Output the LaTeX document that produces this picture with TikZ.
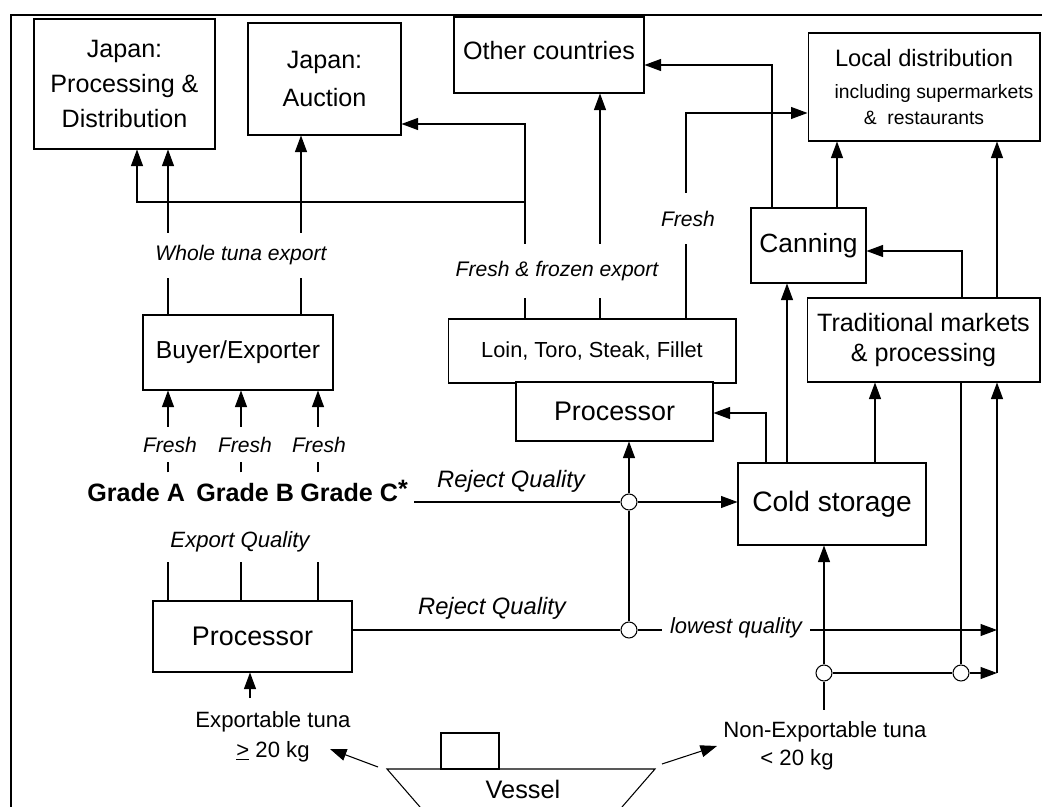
\documentclass[tikz,border=0pt]{standalone}
\usepackage{fontspec}
\setmainfont{Liberation Sans}
\usetikzlibrary{arrows.meta}
\newcommand{\fsz}[2]{\fontsize{#1}{#2}\selectfont}
\tikzset{
  flow/.style={-{Triangle[length=3.3mm,width=2.4mm]},line width=0.6pt},
  link/.style={line width=0.6pt},
  box/.style={draw,line width=0.6pt,fill=white,align=center,inner sep=0pt,
    font=\fsz{14.3}{17}},
  lbl/.style={font=\itshape\fsz{12}{14},fill=white,inner xsep=1pt,inner ysep=0pt},
  note/.style={font=\itshape\fsz{13.5}{16},inner sep=0pt,anchor=base},
  grade/.style={font=\bfseries\fsz{14.3}{17},inner xsep=0pt,inner ysep=0.22cm,
    anchor=base west},
  tuna/.style={font=\fsz{12.6}{17},align=center},
  junc/.style={circle,draw,line width=0.6pt,fill=white,minimum size=0.32cm,
    inner sep=0pt}
}
\begin{document}
\begin{tikzpicture}[x=0.02cm,y=-0.02cm]
  \useasboundingbox (0,0) rectangle (1042,807);
  \draw[line width=1.1pt] (11,807) -- (11,15) -- (1042,15);
  % boxes
  \node[box,minimum width=3.62cm,minimum height=2.6cm,font=\fsz{14.3}{19.7}] (jpd) at (124.5,84) {Japan:\\Processing \&\\Distribution};
  \node[box,minimum width=3.06cm,minimum height=2.24cm,font=\fsz{14.3}{22}] (auc) at (324.5,79) {Japan:\\Auction};
  \node[box,minimum width=3.8cm,minimum height=1.52cm,text depth=0.2cm] (oth) at (549,55) {Other countries};
  \node[box,minimum width=4.64cm,minimum height=2.16cm,font=\fsz{11}{14.8}] (loc) at (924,87) {{\fsz{13.5}{16}Local distribution}\\[3.8pt]\hspace{0.4cm}including supermarkets\\\& \ restaurants};
  \node[box,minimum width=2.3cm,minimum height=1.5cm,font=\fsz{15}{18}] (can) at (808.5,245.5) {Canning};
  \node[box,minimum width=4.66cm,minimum height=1.68cm] (trad) at (923.5,340) {Traditional markets\\\& processing};
  \node[box,minimum width=3.8cm,minimum height=1.5cm,font=\fsz{14}{17}] (buy) at (238,352.5) {Buyer/Exporter};
  \node[box,minimum width=5.76cm,minimum height=1.28cm,font=\fsz{12.4}{15}] (loin) at (592,351) {Loin, Toro, Steak, Fillet};
  \node[box,minimum width=3.94cm,minimum height=1.18cm,font=\fsz{15.3}{18}] (procu) at (614.5,411.5) {Processor};
  \node[box,minimum width=3.76cm,minimum height=1.64cm,font=\fsz{16}{19}] (cold) at (832,504) {Cold storage};
  \node[box,minimum width=3.98cm,minimum height=1.42cm,font=\fsz{15.3}{18}] (procl) at (252.5,636.5) {Processor};
  % grades and tuna
  \node[grade] (gA) at (87,502) {Grade A};
  \node[grade] (gB) at (196,502) {Grade B};
  \node[grade,inner xsep=0.12cm] (gC) at (294,502) {Grade C\raisebox{0.35ex}[0pt][0pt]{*}};
  \node[note,font=\itshape\fsz{12.6}{15},inner ysep=0.19cm] (eq) at (240,548) {Export Quality};
  \node[tuna,anchor=north,inner ysep=0.256cm] (ex) at (273,698) {Exportable tuna\\\underline{>} 20 kg};
  \node[tuna,anchor=base,inner ysep=0.22cm] (ne1) at (825,737) {Non-Exportable tuna};
  \node[tuna,anchor=base] (ne2) at (797,765) {< 20 kg};
  \node[junc] (j1) at (629,502) {};
  \node[junc] (j2) at (629,630) {};
  \node[junc] (j3) at (824,673) {};
  \node[junc] (j4) at (961,673) {};
  \coordinate (spine) at (997,673);
  \coordinate (brk) at (525,202);
  % vessel
  \draw[link] (420,807) -- (387,769) -- (655,769) -- (622,807);
  \draw[link] (441,733) rectangle (499,769);
  \node[anchor=base,font=\fsz{14.4}{17},inner sep=0pt] (ves) at (523,798) {Vessel};
  \coordinate (vL) at (378,767);
  \coordinate (vR) at (662,764);
  \coordinate (exin) at (330,749);
  \coordinate (nein) at (717,746);
  \draw[flow] (vL) -- (exin);
  \draw[flow] (vR) -- (nein);
  % connectors
  \draw[flow] (ex.north -| 250,0) -- (procl.south -| 250,0);
  \foreach \gx in {168,241,318}
    \draw[link] (procl.north -| \gx,0) -- (eq.south -| \gx,0);
  \draw[flow] (gA.north -| 168,0) -- (buy.south -| 168,0);
  \draw[flow] (gB.north -| 241,0) -- (buy.south -| 241,0);
  \draw[flow] (gC.north -| 318,0) -- (buy.south -| 318,0);
  \draw[flow] (buy.north -| 168,0) -- (jpd.south -| 168,0);
  \draw[flow] (buy.north -| 301,0) -- (auc.south -| 301,0);
  \draw[flow] (loin.north -| 525,0) |- (auc.east |- 0,124);
  \draw[flow] (brk) -| (jpd.south -| 137,0);
  \draw[flow] (loin.north -| 600,0) -- (oth.south -| 600,0);
  \draw[flow] (loin.north -| 686,0) |- (loc.west |- 0,113);
  \draw[flow] (can.north -| 772,0) |- (oth.east |- 0,65);
  \draw[flow] (can.north -| 837,0) -- (loc.south -| 837,0);
  \draw[flow] (trad.north -| 962,0) |- (can.east |- 0,251);
  \draw[flow] (trad.north -| 997,0) -- (loc.south -| 997,0);
  \draw[flow] (cold.north -| 787,0) -- (can.south -| 787,0);
  \draw[flow] (cold.north -| 766,0) |- (procu.east |- 0,413);
  \draw[flow] (cold.north -| 875,0) -- (trad.south -| 875,0);
  \draw[link] (gC.east |- j1) -- (j1);
  \draw[flow] (j1) -- (j1 -| cold.west);
  \draw[flow] (j1) -- (procu.south -| j1);
  \draw[link] (j1) -- (j2);
  \draw[link] (procl.east |- j2) -- (j2);
  \draw[flow] (j2) -- (j2 -| spine);
  \draw[flow] (spine) -- (trad.south -| spine);
  \draw[link] (j3) -- (j4);
  \draw[flow] (j4) -- (spine);
  \draw[link] (j4) -- (trad.south -| j4);
  \draw[link] (ne1.north -| j3) -- (j3);
  \draw[flow] (j3) -- (cold.south -| j3);
  % labels on lines
  \node[lbl,minimum height=0.9cm] (wte) at (241,255.5) {Whole tuna export};
  \node[lbl,minimum height=1.1cm] (ffe) at (557,271) {Fresh \& frozen export};
  \node[lbl,minimum height=1.02cm] (fr) at (688,218.5) {Fresh};
  \foreach \fx/\fn in {170/f1,245/f2,319/f3}
    \node[lbl,minimum height=0.7cm] (\fn) at (\fx,444.5) {Fresh};
  \node[lbl,font=\itshape\fsz{12.5}{15},inner xsep=0.16cm] (lq) at (736,627.5) {lowest quality};
  \node[note] (rq1) at (511,488) {Reject Quality};
  \node[note] (rq2) at (492,615) {Reject Quality};
\end{tikzpicture}
\end{document}
